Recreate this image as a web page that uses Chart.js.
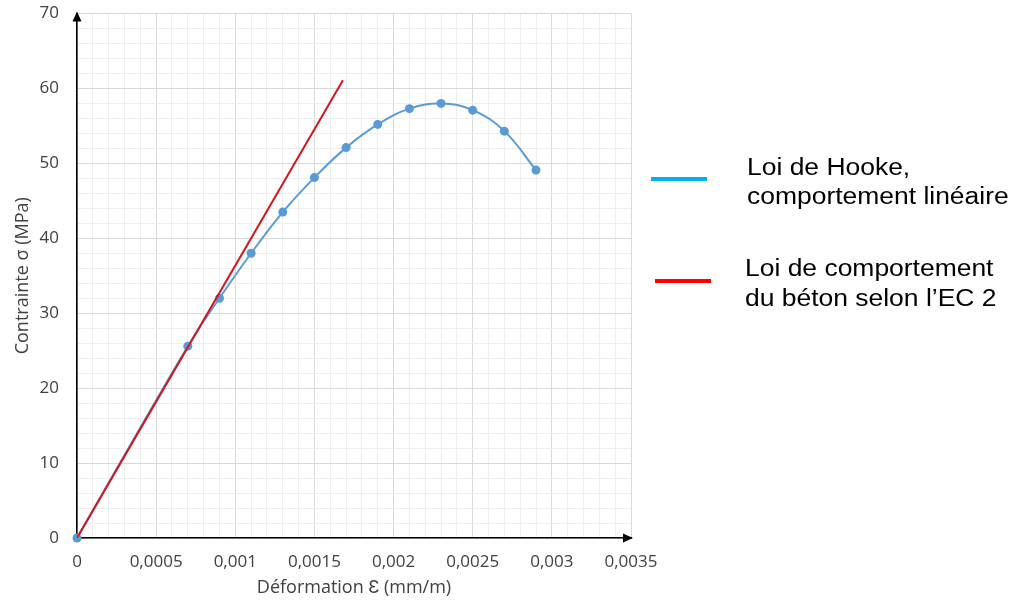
<!DOCTYPE html>
<html>
<head>
<meta charset="utf-8">
<script src="https://cdn.jsdelivr.net/npm/chart.js@4.4.1/dist/chart.umd.min.js"></script>
<style>
  html, body { margin: 0; padding: 0; background: #fff; }
  #wrap { width: 1021px; height: 603px; position: relative; }
</style>
</head>
<body>
<div id="wrap"><canvas id="c" width="1021" height="603"></canvas></div>
<script>
// Measured stress-strain points for the concrete (strain mm/m, stress MPa)
const strain = [0, 0.0007, 0.0009, 0.0011, 0.0013, 0.0015, 0.0017, 0.0019, 0.0021, 0.0023, 0.0025, 0.0027, 0.0029];
const stress = [0, 25.6, 32.0, 38.0, 43.5, 48.1, 52.1, 55.2, 57.3, 58.0, 57.1, 54.3, 49.1];

// Linear (Hooke) law: straight segment from the origin
const hookeStrain = [0, 0.00168];
const hookeStress = [0, 61.1];

// Axis tick labels (every fifth minor step)
const xTickLabels = ['0', '0,0005', '0,001', '0,0015', '0,002', '0,0025', '0,003', '0,0035'];
const yTickLabels = ['0', '10', '20', '30', '40', '50', '60', '70'];

// Legend entries
const legendItems = [
  { color: '#00B0F0', lines: ['Loi de Hooke,', 'comportement linéaire'] },
  { color: '#FF0000', lines: ['Loi de comportement', 'du béton selon l\u2019EC 2'] }
];

const curvePoints = strain.map((x, i) => ({ x, y: stress[i] }));
const hookePoints = hookeStrain.map((x, i) => ({ x, y: hookeStress[i] }));

const majorGrid = '#D9D9D9';
const minorGrid = '#EEEEEE';
const tickFont = { family: '"Open Sans", sans-serif', size: 17 };
const titleFont = { family: '"Open Sans", sans-serif', size: 18 };

// Arrowheads at the ends of both axes, plus the side legend
const decorPlugin = {
  id: 'decor',
  afterDraw(chart) {
    const ctx = chart.ctx;
    const xs = chart.scales.x, ys = chart.scales.y;
    const x0 = xs.getPixelForValue(0), y0 = ys.getPixelForValue(0);
    const xEnd = xs.right, yEnd = ys.top;
    ctx.save();
    ctx.fillStyle = '#000';
    // y arrow
    ctx.beginPath();
    ctx.moveTo(x0, yEnd - 2);
    ctx.lineTo(x0 - 4.5, yEnd + 8);
    ctx.lineTo(x0 + 4.5, yEnd + 8);
    ctx.closePath();
    ctx.fill();
    // x arrow
    ctx.beginPath();
    ctx.moveTo(xEnd + 2, y0);
    ctx.lineTo(xEnd - 8, y0 - 4.5);
    ctx.lineTo(xEnd - 8, y0 + 4.5);
    ctx.closePath();
    ctx.fill();

    // legend
    const blocks = [
      { lineX: 651, lineY: 179, textX: 747, base: [175, 204] },
      { lineX: 655, lineY: 281, textX: 745, base: [276, 306] }
    ];
    const stretch = 1.15;
    ctx.font = '23px "Liberation Sans", Arial, sans-serif';
    ctx.textBaseline = 'alphabetic';
    ctx.textAlign = 'left';
    legendItems.forEach((item, i) => {
      const b = blocks[i];
      ctx.strokeStyle = item.color;
      ctx.lineWidth = 4;
      ctx.beginPath();
      ctx.moveTo(b.lineX, b.lineY);
      ctx.lineTo(b.lineX + 56, b.lineY);
      ctx.stroke();
      ctx.fillStyle = '#000';
      item.lines.forEach((t, k) => {
        ctx.save();
        ctx.translate(b.textX, b.base[k]);
        ctx.scale(stretch, 1);
        ctx.fillText(t, 0, 0);
        ctx.restore();
      });
    });
    ctx.restore();
  }
};

new Chart(document.getElementById('c'), {
  type: 'scatter',
  data: {
    datasets: [
      {
        label: 'EC 2',
        data: hookePoints,
        showLine: true,
        borderColor: '#D0161C',
        borderWidth: 2,
        pointRadius: 0,
        order: 0
      },
      {
        label: 'Hooke',
        data: curvePoints,
        showLine: true,
        tension: 0.4,
        clip: false,
        borderColor: '#5B9BD5',
        backgroundColor: '#5B9BD5',
        borderWidth: 2,
        pointRadius: 4.5,
        pointBorderWidth: 0,
        order: 1
      }
    ]
  },
  options: {
    responsive: false,
    animation: false,
    devicePixelRatio: 1,
    layout: { padding: { top: 0, right: 390, left: 0, bottom: 0 } },
    plugins: { legend: { display: false }, tooltip: { enabled: false } },
    scales: {
      x: {
        type: 'linear',
        min: 0,
        max: 0.0035,
        afterFit(scale) { scale.height = 65; },
        border: { color: '#000', width: 1.6 },
        grid: {
          drawTicks: false,
          color: c => (c.index % 5 === 0 ? majorGrid : minorGrid),
          lineWidth: 1
        },
        ticks: {
          stepSize: 0.0001,
          autoSkip: false,
          maxRotation: 0,
          padding: 14,
          color: '#404040',
          font: tickFont,
          callback: (v, i) => (i % 5 === 0 ? xTickLabels[i / 5] : '')
        },
        title: {
          display: true,
          text: 'Déformation Ɛ (mm/m)',
          color: '#404040',
          font: titleFont,
          padding: { top: 2, bottom: 4 }
        }
      },
      y: {
        type: 'linear',
        min: 0,
        max: 70,
        afterFit(scale) {
          scale.width = 77;
          scale.paddingTop = 13.5;
        },
        border: { color: '#000', width: 1.6 },
        grid: {
          drawTicks: false,
          color: c => (c.index % 5 === 0 ? majorGrid : minorGrid),
          lineWidth: 1
        },
        ticks: {
          stepSize: 2,
          autoSkip: false,
          padding: 18,
          color: '#404040',
          font: tickFont,
          callback: (v, i) => (i % 5 === 0 ? yTickLabels[i / 5] : '')
        },
        title: {
          display: true,
          text: 'Contrainte σ (MPa)',
          color: '#404040',
          font: titleFont,
          padding: { top: 12, bottom: 0 }
        }
      }
    }
  },
  plugins: [decorPlugin]
});
</script>
</body>
</html>
